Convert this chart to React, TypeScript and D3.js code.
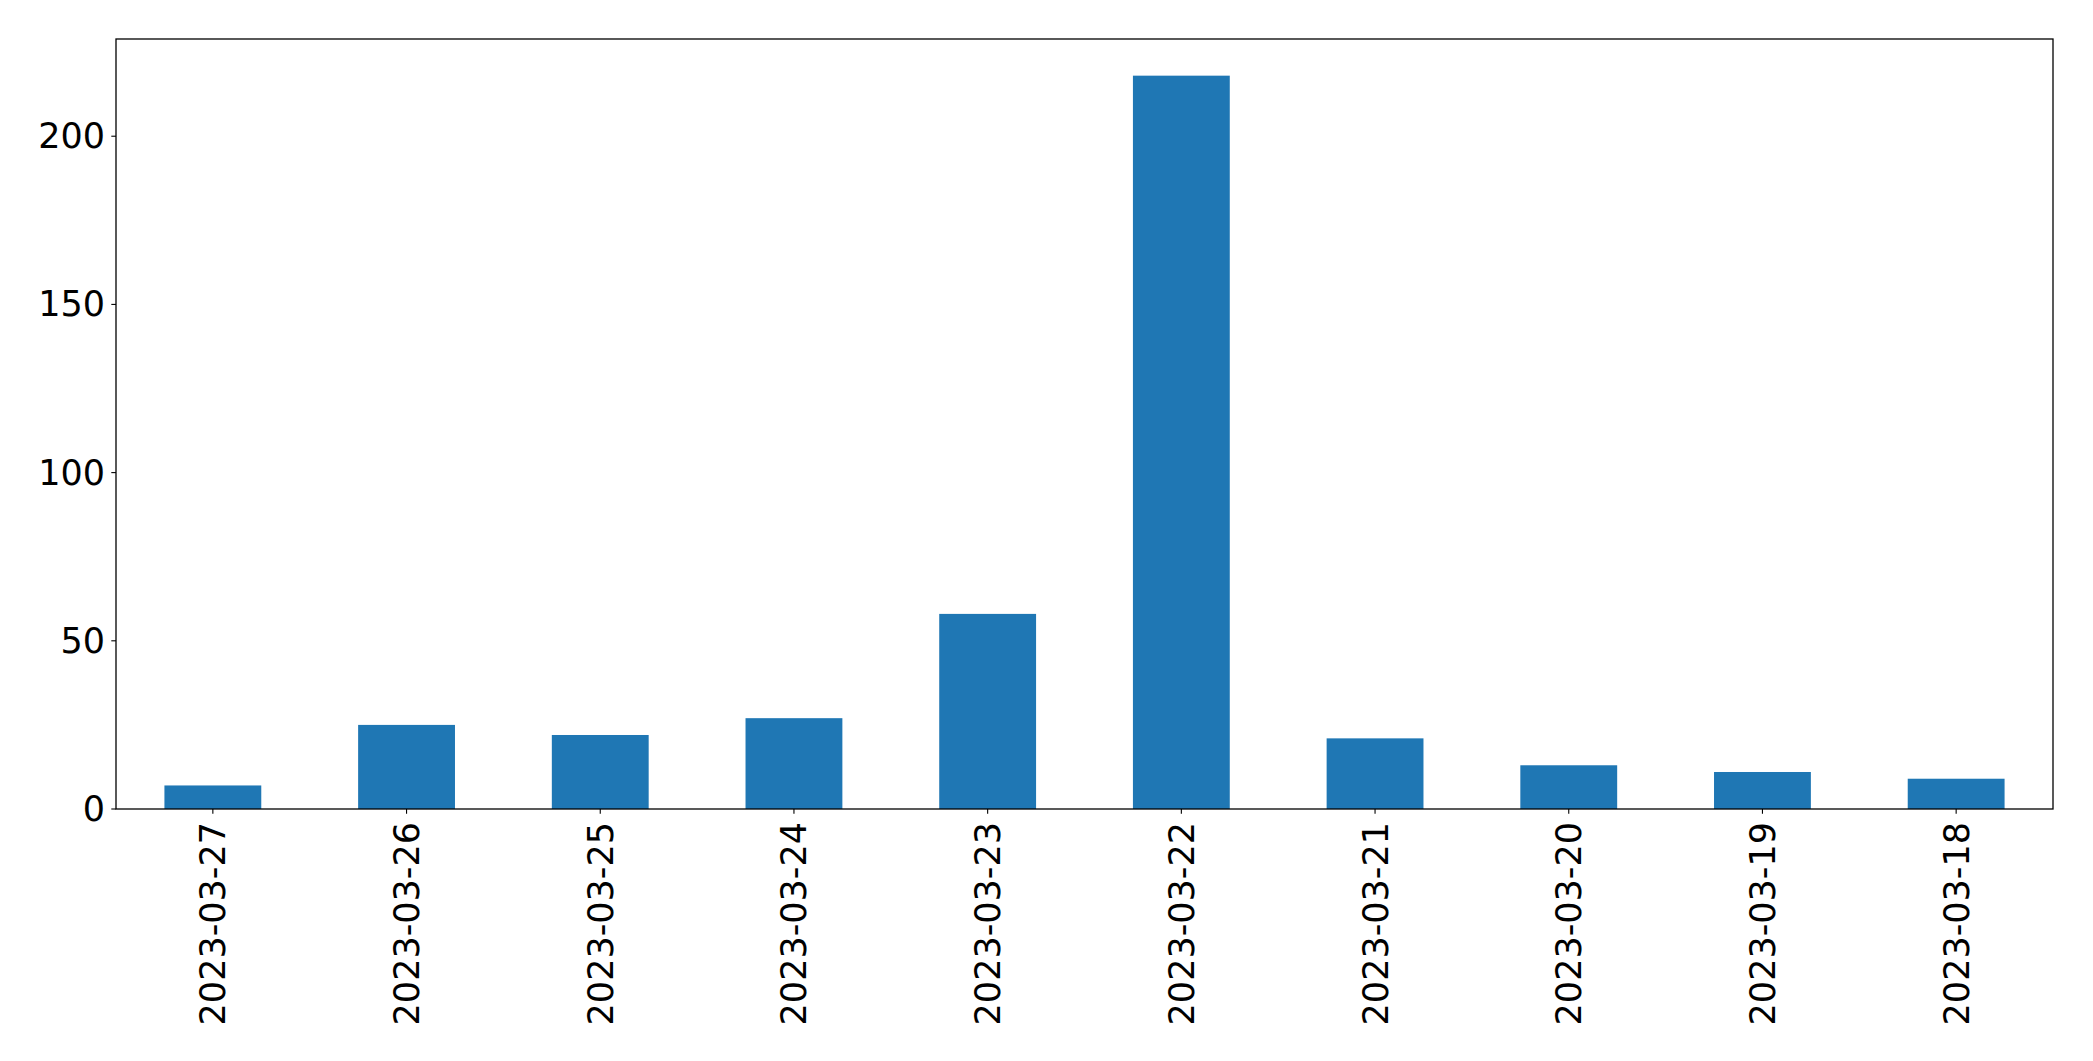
import React from "react";
import * as d3 from "d3";

const categories: string[] = [
  "2023-03-27",
  "2023-03-26",
  "2023-03-25",
  "2023-03-24",
  "2023-03-23",
  "2023-03-22",
  "2023-03-21",
  "2023-03-20",
  "2023-03-19",
  "2023-03-18",
];
const counts: number[] = [7, 25, 22, 27, 58, 218, 21, 13, 11, 9];
const yTicks: number[] = [0, 50, 100, 150, 200];

const W = 2093;
const H = 1061;
const margin = { left: 116, right: W - 2053, top: 39, bottom: H - 809 };
const FONT = "'DejaVu Sans', sans-serif";
const FS = 35;

export default function App() {
  const x = d3
    .scaleBand<string>()
    .domain(categories)
    .range([margin.left, W - margin.right])
    .paddingInner(0.5)
    .paddingOuter(0.25);
  const yMax = d3.max(counts)! * 1.05;
  const y = d3
    .scaleLinear()
    .domain([0, yMax])
    .range([H - margin.bottom, margin.top]);

  const left = margin.left;
  const right = W - margin.right;
  const top = margin.top;
  const bottom = H - margin.bottom;
  const tickLen = 4.7;

  return (
    <svg
      width={W}
      height={H}
      style={{ position: "absolute", left: 0, top: 0, display: "block", background: "#fff" }}
      fontFamily={FONT}
    >
      <rect x={0} y={0} width={W} height={H} fill="#fff" />
      {categories.map((c, i) => (
        <rect
          key={c}
          x={x(c)!}
          width={x.bandwidth()}
          y={y(counts[i])}
          height={y(0) - y(counts[i])}
          fill="#1f77b4"
        />
      ))}
      {/* y ticks */}
      {yTicks.map((t) => (
        <g key={t}>
          <line x1={left - tickLen} x2={left} y1={y(t)} y2={y(t)} stroke="#000" strokeWidth={1.1} />
          <text
            x={left - 11}
            y={y(t)}
            fontSize={FS}
            textAnchor="end"
            dominantBaseline="central"
            fill="#000"
          >
            {t}
          </text>
        </g>
      ))}
      {/* x ticks */}
      {categories.map((c) => {
        const cx = x(c)! + x.bandwidth() / 2;
        return (
          <g key={c}>
            <line x1={cx} x2={cx} y1={bottom} y2={bottom + tickLen} stroke="#000" strokeWidth={1.1} />
            <text
              transform={`translate(${cx + 12.5},${bottom + 13}) rotate(-90)`}
              fontSize={FS}
              textAnchor="end"
              fill="#000"
            >
              {c}
            </text>
          </g>
        );
      })}
      {/* frame */}
      <rect
        x={left}
        y={top}
        width={right - left}
        height={bottom - top}
        fill="none"
        stroke="#000"
        strokeWidth={1.3}
      />
    </svg>
  );
}
